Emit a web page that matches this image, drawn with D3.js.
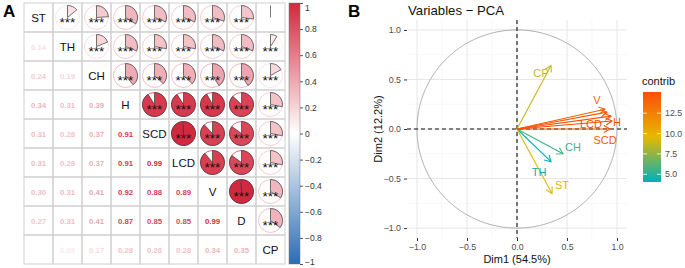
<!DOCTYPE html>
<html lang="en">
<head>
  <meta charset="UTF-8">
  <title>Correlation and PCA</title>
  <script src="https://d3js.org/d3.v7.min.js"></script>
  <style>
    body { margin: 0; background: #fff; }
    svg { font-family: "Liberation Sans", Arial, sans-serif; display: block; }
  </style>
</head>
<body>
  <svg id="chart" width="685" height="268"></svg>
  <script>
    // ---- panel A data ----
    const vars = ["ST", "TH", "CH", "H", "SCD", "LCD", "V", "D", "CP"];
    // lower triangle, row i holds r(i, j) for j < i
    const corrRows = [
      [],
      [0.14],
      [0.24, 0.19],
      [0.34, 0.31, 0.39],
      [0.31, 0.28, 0.37, 0.91],
      [0.31, 0.28, 0.37, 0.91, 0.99],
      [0.30, 0.31, 0.41, 0.92, 0.88, 0.89],
      [0.27, 0.31, 0.41, 0.87, 0.85, 0.85, 0.99],
      [0.00, 0.09, 0.17, 0.28, 0.28, 0.28, 0.34, 0.35]
    ];
    const notSignificant = [["ST", "CP"]];
    const corrTicks = [1, 0.8, 0.6, 0.4, 0.2, 0, -0.2, -0.4, -0.6, -0.8, -1];

    // ---- panel B data ----
    const pcaVars = ["ST", "TH", "CH", "H", "SCD", "LCD", "V", "D", "CP"];
    const dim1 = [0.35, 0.34, 0.46, 0.94, 0.93, 0.95, 0.88, 0.90, 0.34];
    const dim2 = [-0.65, -0.33, -0.25, 0.13, 0.00, 0.08, 0.20, 0.17, 0.64];
    const contrib = [9.3, 4.1, 5.6, 15.0, 14.6, 15.1, 14.2, 14.5, 8.8];
    const labelX = [0.45, 0.22, 0.56, 1.00, 0.88, 0.74, 0.80, null, 0.24];
    const labelY = [-0.57, -0.43, -0.18, 0.07, -0.11, 0.05, 0.29, null, 0.57];
    const axisTicks = [-1.0, -0.5, 0.0, 0.5, 1.0];
    const contribTicks = [5.0, 7.5, 10.0, 12.5];

    const svg = d3.select("#chart");

    // ================= Panel A: corrplot =================
    const corr = (i, j) => i === j ? 1 : (i > j ? corrRows[i][j] : corrRows[j][i]);
    const isSig = (i, j) => !notSignificant.some(p =>
      (p[0] === vars[i] && p[1] === vars[j]) || (p[0] === vars[j] && p[1] === vars[i]));

    const band = d3.scaleBand().domain(vars).range([24, 285]);
    const bandY = d3.scaleBand().domain(vars).range([3, 264]);
    const cs = band.bandwidth();
    const corrColor = d3.scaleLinear()
      .domain([-1, 0, 1])
      .range(["#2b6cb3", "#ffffff", "#d3273c"]);

    svg.append("text")
      .attr("x", 3).attr("y", 17)
      .attr("font-size", 17).attr("font-weight", "bold")
      .text("A");

    const cellsA = svg.append("g");
    vars.forEach((vi, i) => {
      vars.forEach((vj, j) => {
        const x0 = band(vj), y0 = bandY(vi);
        const cx = x0 + cs / 2, cy = y0 + cs / 2;
        cellsA.append("rect")
          .attr("x", x0).attr("y", y0)
          .attr("width", cs).attr("height", cs)
          .attr("fill", "none").attr("stroke", "#cfcfcf").attr("stroke-width", 1);
        if (i === j) {
          cellsA.append("text")
            .attr("x", cx).attr("y", cy + 4)
            .attr("text-anchor", "middle")
            .attr("font-size", 11.5)
            .attr("fill", "#111")
            .text(vi);
        } else if (i > j) {
          const r = corr(i, j);
          cellsA.append("text")
            .attr("x", cx).attr("y", cy + 3)
            .attr("text-anchor", "middle")
            .attr("font-size", 7.8).attr("font-weight", "bold")
            .attr("fill", corrColor(r))
            .text(r.toFixed(2));
        } else {
          const r = corr(i, j);
          const col = corrColor(r);
          const rad = 12;
          cellsA.append("circle")
            .attr("cx", cx).attr("cy", cy).attr("r", rad)
            .attr("fill", "#fff").attr("stroke", col).attr("stroke-width", 0.8);
          const arc = d3.arc().innerRadius(0).outerRadius(rad)
            .startAngle(0).endAngle(Math.abs(r) * 2 * Math.PI * Math.sign(r || 1));
          if (Math.abs(r) > 0.005) {
            cellsA.append("path")
              .attr("transform", `translate(${cx},${cy})`)
              .attr("d", arc())
              .attr("fill", col).attr("stroke", "#3a3a3a").attr("stroke-width", 0.7);
          } else {
            cellsA.append("line")
              .attr("x1", cx).attr("x2", cx)
              .attr("y1", cy).attr("y2", cy - rad)
              .attr("stroke", "#555").attr("stroke-width", 0.8);
          }
          if (isSig(i, j)) {
            cellsA.append("text")
              .attr("x", cx).attr("y", cy + 9)
              .attr("text-anchor", "middle")
              .attr("font-size", 13.5)
              .attr("fill", "#111")
              .text("***");
          }
        }
      });
    });

    // colour legend of panel A
    const legY = d3.scaleLinear().domain([-1, 1]).range([264, 3]);
    const defs = svg.append("defs");
    const gradA = defs.append("linearGradient")
      .attr("id", "gradA").attr("x1", 0).attr("y1", 1).attr("x2", 0).attr("y2", 0);
    d3.range(-1, 1.001, 0.25).forEach(v => {
      gradA.append("stop").attr("offset", (v + 1) / 2).attr("stop-color", corrColor(v));
    });
    svg.append("rect")
      .attr("x", 289).attr("y", legY(1))
      .attr("width", 11).attr("height", legY(-1) - legY(1))
      .attr("fill", "url(#gradA)")
      .attr("stroke", "#777").attr("stroke-width", 0.5);
    const legA = svg.append("g")
      .attr("transform", "translate(300,0)")
      .call(d3.axisRight(legY).tickValues(corrTicks).tickSize(3)
        .tickFormat(d => d === 0 ? "0" : d3.format("")(d).replace("-", "\u2212")));
    legA.select(".domain").remove();
    legA.selectAll("line").attr("stroke", "#555");
    legA.selectAll("text")
      .attr("font-family", "Liberation Sans, Arial, sans-serif")
      .attr("font-size", 8.5).attr("fill", "#333").attr("x", 5)
      .attr("dy", d => d === 1 ? "0.9em" : d === -1 ? "0.1em" : "0.32em");

    // ================= Panel B: PCA variables =================
    const x = d3.scaleLinear().domain([-1.1, 1.1]).range([407, 627]);
    const y = d3.scaleLinear().domain([-1.1, 1.1]).range([238, 20]);
    const cExt = [4.05, 15.1];
    const contribColor = d3.scaleLinear()
      .domain([cExt[0], (cExt[0] + cExt[1]) / 2, cExt[1]])
      .range(["#00AFBB", "#E7B800", "#FC4E07"]);

    svg.append("text")
      .attr("x", 348).attr("y", 17)
      .attr("font-size", 17).attr("font-weight", "bold")
      .text("B");
    svg.append("text")
      .attr("x", 408).attr("y", 15)
      .attr("font-size", 13.2).attr("fill", "#111")
      .text("Variables \u2212 PCA");

    const gB = svg.append("g");
    const minor = [-0.75, -0.25, 0.25, 0.75];
    minor.forEach(v => {
      gB.append("line").attr("x1", x(v)).attr("x2", x(v)).attr("y1", y(1.1)).attr("y2", y(-1.1))
        .attr("stroke", "#f3f3f3").attr("stroke-width", 0.6);
      gB.append("line").attr("y1", y(v)).attr("y2", y(v)).attr("x1", x(-1.1)).attr("x2", x(1.1))
        .attr("stroke", "#f3f3f3").attr("stroke-width", 0.6);
    });
    axisTicks.forEach(v => {
      gB.append("line").attr("x1", x(v)).attr("x2", x(v)).attr("y1", y(1.1)).attr("y2", y(-1.1))
        .attr("stroke", "#e6e6e6").attr("stroke-width", 1);
      gB.append("line").attr("y1", y(v)).attr("y2", y(v)).attr("x1", x(-1.1)).attr("x2", x(1.1))
        .attr("stroke", "#e6e6e6").attr("stroke-width", 1);
    });

    // correlation circle
    const circ = d3.line().x(a => x(Math.cos(a))).y(a => y(Math.sin(a)));
    gB.append("path")
      .attr("d", circ(d3.range(0, 2 * Math.PI + 0.01, 0.02)))
      .attr("fill", "none").attr("stroke", "#b0b0b0").attr("stroke-width", 1);

    // axes
    const xAxis = svg.append("g")
      .attr("transform", `translate(0,${y(-1.1)})`)
      .call(d3.axisBottom(x).tickValues(axisTicks).tickSize(3)
        .tickFormat(d => d3.format(".1f")(d).replace("-", "\u2212")));
    const yAxis = svg.append("g")
      .attr("transform", `translate(${x(-1.1)},0)`)
      .call(d3.axisLeft(y).tickValues(axisTicks).tickSize(3)
        .tickFormat(d => d3.format(".1f")(d).replace("-", "\u2212")));
    [xAxis, yAxis].forEach(a => {
      a.select(".domain").remove();
      a.selectAll("line").attr("stroke", "#333");
      a.selectAll("text")
        .attr("font-family", "Liberation Sans, Arial, sans-serif")
        .attr("font-size", 8.8).attr("fill", "#4d4d4d");
    });

    svg.append("text")
      .attr("x", x(0)).attr("y", 263)
      .attr("text-anchor", "middle").attr("font-size", 11).attr("fill", "#111")
      .text("Dim1 (54.5%)");
    svg.append("text")
      .attr("transform", `translate(382,${y(0)}) rotate(-90)`)
      .attr("text-anchor", "middle").attr("font-size", 11).attr("fill", "#111")
      .text("Dim2 (12.2%)");

    // dashed reference lines
    gB.append("line").attr("x1", x(0)).attr("x2", x(0)).attr("y1", y(1.1)).attr("y2", y(-1.1))
      .attr("stroke", "#111").attr("stroke-width", 1.1).attr("stroke-dasharray", "4,3");
    gB.append("line").attr("x1", x(-1.1)).attr("x2", x(1.1)).attr("y1", y(0)).attr("y2", y(0))
      .attr("stroke", "#111").attr("stroke-width", 1.1).attr("stroke-dasharray", "4,3");

    // arrows
    const order = d3.range(pcaVars.length).sort((a, b) => contrib[a] - contrib[b]);
    order.forEach(k => {
      const col = contribColor(contrib[k]);
      const x1 = x(dim1[k]), y1 = y(dim2[k]);
      const ang = Math.atan2(y1 - y(0), x1 - x(0));
      const hl = 7, ha = Math.PI / 6;
      gB.append("line")
        .attr("x1", x(0)).attr("y1", y(0)).attr("x2", x1).attr("y2", y1)
        .attr("stroke", col).attr("stroke-width", 1.1);
      gB.append("path")
        .attr("d", `M${x1 - hl * Math.cos(ang - ha)},${y1 - hl * Math.sin(ang - ha)}L${x1},${y1}L${x1 - hl * Math.cos(ang + ha)},${y1 - hl * Math.sin(ang + ha)}`)
        .attr("fill", "none").attr("stroke", col).attr("stroke-width", 1.1);
    });
    pcaVars.forEach((v, k) => {
      if (labelX[k] === null) return;
      gB.append("text")
        .attr("x", x(labelX[k])).attr("y", y(labelY[k]) + 4)
        .attr("text-anchor", "middle").attr("font-size", 11)
        .attr("fill", contribColor(contrib[k]))
        .text(v);
    });

    // contrib legend
    svg.append("text")
      .attr("x", 642).attr("y", 85)
      .attr("font-size", 11).attr("fill", "#111")
      .text("contrib");
    const legC = d3.scaleLinear().domain(cExt).range([182, 92]);
    const gradB = defs.append("linearGradient")
      .attr("id", "gradB").attr("x1", 0).attr("y1", 1).attr("x2", 0).attr("y2", 0);
    d3.range(0, 1.001, 0.1).forEach(t => {
      gradB.append("stop").attr("offset", t)
        .attr("stop-color", contribColor(cExt[0] + t * (cExt[1] - cExt[0])));
    });
    svg.append("rect")
      .attr("x", 643).attr("y", legC(cExt[1]))
      .attr("width", 18).attr("height", legC(cExt[0]) - legC(cExt[1]))
      .attr("fill", "url(#gradB)");
    contribTicks.forEach(t => {
      svg.append("line").attr("x1", 643).attr("x2", 647).attr("y1", legC(t)).attr("y2", legC(t))
        .attr("stroke", "#fff").attr("stroke-width", 0.8);
      svg.append("line").attr("x1", 657).attr("x2", 661).attr("y1", legC(t)).attr("y2", legC(t))
        .attr("stroke", "#fff").attr("stroke-width", 0.8);
      svg.append("text")
        .attr("x", 665).attr("y", legC(t) + 3)
        .attr("font-size", 8.8).attr("fill", "#4d4d4d")
        .text(d3.format(".1f")(t));
    });
  </script>
</body>
</html>
